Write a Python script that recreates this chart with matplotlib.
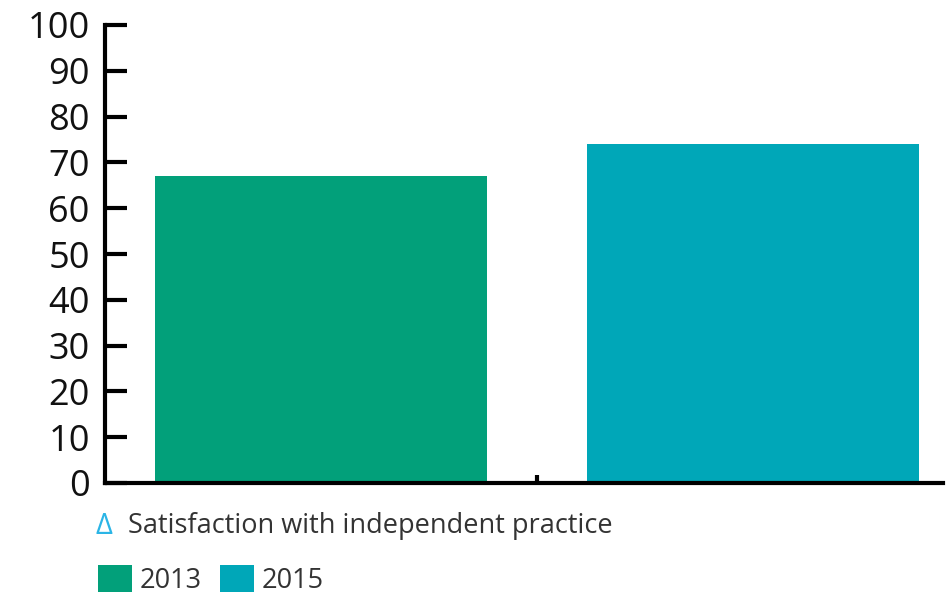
import matplotlib
matplotlib.use("Agg")
import matplotlib.pyplot as plt

years = ["2013", "2015"]
values = [67, 74]
colors = ["#02a07a", "#00a7b8"]
yticks = [0, 10, 20, 30, 40, 50, 60, 70, 80, 90, 100]
caption = "Satisfaction with independent practice"

plt.rcParams['font.family'] = ['Open Sans', 'DejaVu Sans']

fig = plt.figure(figsize=(9.51, 5.95), dpi=100)
ax = fig.add_axes([105/951, 1-483/595, (943-105)/951, (483-25)/595])

bars = []
for i, (y, v, c) in enumerate(zip(years, values, colors)):
    bars.append(ax.bar(i, v, width=0.77, color=c, label=y, zorder=1))

ax.set_xlim(-0.5, 1.44)
ax.set_ylim(0, 100)
ax.set_yticks(yticks)
ax.set_yticklabels([str(t) for t in yticks], fontsize=26, color="#111111")
ax.set_xticks([0.5])
ax.set_xticklabels([""])

for s in ["top", "right"]:
    ax.spines[s].set_visible(False)
for s in ["left", "bottom"]:
    ax.spines[s].set_linewidth(3)
    ax.spines[s].set_color("black")
    ax.spines[s].set_zorder(3)
ax.spines["left"].set_capstyle("projecting")
ax.spines["bottom"].set_capstyle("projecting")

ax.tick_params(axis="y", direction="in", length=16, width=3, pad=11, color="black")
ax.tick_params(axis="x", direction="in", length=6, width=3, color="black")

fig.text(96/951, 1-526/595, "Δ", color="#2bb5e6", fontsize=21, va="center", ha="left")
fig.text(128/951, 1-526/595, caption, color="#333333", fontsize=19.5, va="center", ha="left")

fig.legend(handles=[b for b in bars], labels=years, loc="center left",
           bbox_to_anchor=(90/951, 1-580/595), ncol=2, frameon=False,
           fontsize=19.5, handlelength=1.25, handleheight=1.15, handletextpad=0.3,
           columnspacing=0.65, labelcolor="#333333", borderaxespad=0, borderpad=0.3)

fig.savefig("out.png", dpi=100)
